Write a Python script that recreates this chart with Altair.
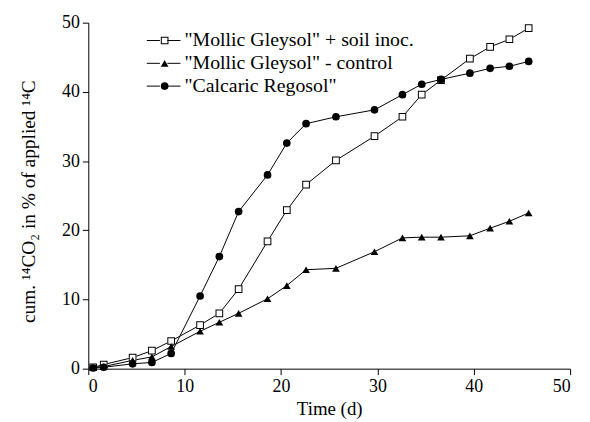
import altair as alt
import pandas as pd

time_d = [0.5, 1.6, 4.6, 6.6, 8.6, 11.6, 13.6, 15.6, 18.6, 20.6, 22.6, 25.7,
          29.7, 32.6, 34.6, 36.6, 39.6, 41.7, 43.7, 45.7]
inoc = [0.2, 0.6, 1.6, 2.6, 4.0, 6.3, 8.0, 11.5, 18.4, 22.9, 26.6, 30.1,
        33.6, 36.4, 39.6, 41.7, 44.8, 46.5, 47.6, 49.2]
control = [0.2, 0.3, 1.2, 1.7, 3.2, 5.4, 6.7, 8.0, 10.1, 12.0, 14.3, 14.5,
           16.9, 18.9, 19.0, 19.0, 19.2, 20.3, 21.3, 22.5]
calcaric = [0.1, 0.2, 0.7, 0.9, 2.2, 10.5, 16.2, 22.7, 28.0, 32.6, 35.4, 36.4,
            37.4, 39.6, 41.1, 41.8, 42.7, 43.4, 43.7, 44.4]

series_names = ['"Mollic Gleysol" + soil inoc.',
                '"Mollic Gleysol" - control',
                '"Calcaric Regosol"']
line_keys = ["line A", "line B", "line C"]
series_values = [inoc, control, calcaric]

rows = []
for name, key, vals in zip(series_names, line_keys, series_values):
    for t, v in zip(time_d, vals):
        rows.append({"t": t, "v": v, "series": name, "series_l": key})
df = pd.DataFrame(rows)

FONT = "Liberation Serif"
LEG_FS = 20
ROWPAD = 3
MSIZE = 60
# hollow square (outline ring) as a filled path
RING = "M-1,-1H1V1H-1Z M-0.74,-0.74V0.74H0.74V-0.74Z"

x = alt.X("t:Q", title="Time (d)",
          scale=alt.Scale(domain=[0, 50], nice=False),
          axis=alt.Axis(values=[0, 10, 20, 30, 40, 50], grid=False,
                        titleFontSize=19, titleBaseline="middle",
                        titleY=40, titleX=243, titleAlign="center"))
y = alt.Y("v:Q", title="cum. ¹⁴CO₂ in % of applied ¹⁴C",
          scale=alt.Scale(domain=[0, 50], nice=False),
          axis=alt.Axis(values=[0, 10, 20, 30, 40, 50], grid=False,
                        titleFontSize=19.5, titleAngle=270,
                        titleX=-60, titleY=180, titleAlign="center",
                        titleBaseline="middle"))

lines = alt.Chart(df).mark_line(strokeWidth=1).encode(
    x=x, y=y,
    stroke=alt.Stroke("series_l:N",
                      scale=alt.Scale(domain=line_keys,
                                      range=["black", "black", "black"]),
                      legend=alt.Legend(orient="none", legendX=66, legendY=8,
                                        title=None, padding=0,
                                        symbolType="M-3.4,0H-0.75M0.75,0H3.4",
                                        symbolSize=100, symbolStrokeWidth=1,
                                        labelFontSize=LEG_FS, labelExpr="''",
                                        rowPadding=ROWPAD)),
)

underlay = alt.Chart(df).transform_filter(
    alt.datum.series == series_names[0]
).mark_square(size=MSIZE, color="white", opacity=1).encode(x=x, y=y)

points = alt.Chart(df).mark_point(filled=True, color="black", opacity=1,
                                  strokeWidth=0, size=MSIZE).encode(
    x=x, y=y,
    shape=alt.Shape("series:N",
                    scale=alt.Scale(domain=series_names,
                                    range=[RING, "triangle-up", "circle"]),
                    legend=alt.Legend(orient="none", legendX=67, legendY=8,
                                      title=None, padding=0,
                                      symbolSize=MSIZE, symbolFillColor="black",
                                      symbolStrokeWidth=0,
                                      labelFontSize=LEG_FS, labelFont=FONT,
                                      labelLimit=0, labelOffset=10,
                                      rowPadding=ROWPAD)),
)

chart = alt.layer(lines, underlay, points).properties(
    width=486, height=349,
    background="white",
    autosize=alt.AutoSizeParams(type="none"),
    padding={"left": 81, "top": 13, "right": 12, "bottom": 52},
).configure_view(stroke=None).configure_axis(
    labelFont=FONT, titleFont=FONT, labelFontSize=18,
    labelColor="black", titleColor="black", titleFontWeight="normal",
    domainColor="black", tickColor="black", tickSize=6, labelPadding=3,
).configure_legend(labelFont=FONT, labelColor="black")

chart.save("out.html", embed_options={"renderer": "svg", "actions": False})
